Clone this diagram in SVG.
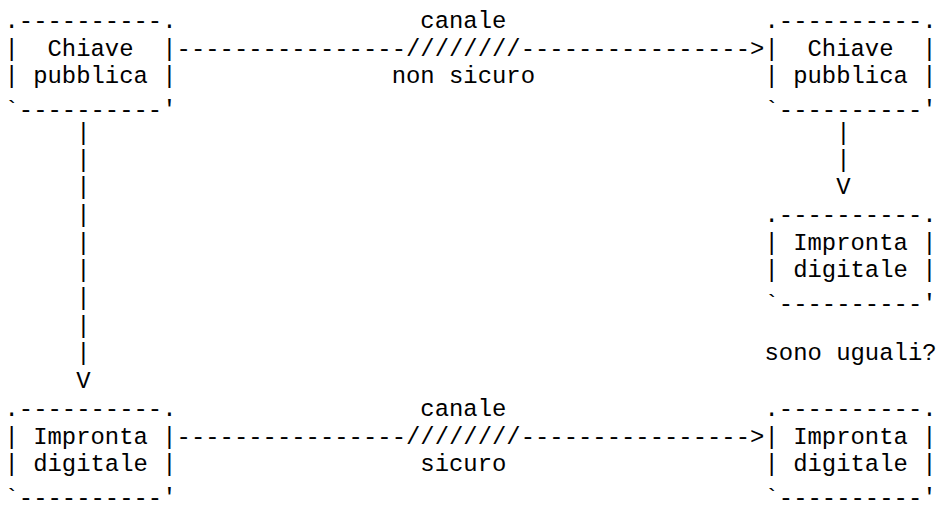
<svg xmlns="http://www.w3.org/2000/svg" width="937" height="519" viewBox="0 0 937 519">
<style>
text{font-family:"Liberation Mono","Courier New",monospace;font-size:23.9px;fill:#000;white-space:pre}
</style>
<rect width="937" height="519" fill="#fff"/>
<g id="chiave-sorgente">
<text x="4.5" y="28">.----------.</text>
<text x="4.5" y="55.7">|  Chiave  |</text>
<text x="4.5" y="83.4">| pubblica |</text>
<text x="4.5" y="117.1">`----------'</text>
</g>
<g id="chiave-destinazione">
<text x="764.52" y="28">.----------.</text>
<text x="764.52" y="55.7">|  Chiave  |</text>
<text x="764.52" y="83.4">| pubblica |</text>
<text x="764.52" y="117.1">`----------'</text>
</g>
<g id="impronta-destinazione">
<text x="764.52" y="221.9">.----------.</text>
<text x="764.52" y="249.6">| Impronta |</text>
<text x="764.52" y="277.3">| digitale |</text>
<text x="764.52" y="311">`----------'</text>
</g>
<g id="impronta-sorgente">
<text x="4.5" y="415.8">.----------.</text>
<text x="4.5" y="443.5">| Impronta |</text>
<text x="4.5" y="471.2">| digitale |</text>
<text x="4.5" y="504.9">`----------'</text>
</g>
<g id="impronta-ricevuta">
<text x="764.52" y="415.8">.----------.</text>
<text x="764.52" y="443.5">| Impronta |</text>
<text x="764.52" y="471.2">| digitale |</text>
<text x="764.52" y="504.9">`----------'</text>
</g>
<g id="connectors">
<text x="176.58" y="55.7">----------------////////----------------&gt;</text>
<text x="420.36" y="28">canale</text>
<text x="391.68" y="83.4">non sicuro</text>
<text x="176.58" y="443.5">----------------////////----------------&gt;</text>
<text x="420.36" y="415.8">canale</text>
<text x="420.36" y="471.2">sicuro</text>
<text x="76.2" y="140">|</text>
<text x="76.2" y="166.5">|</text>
<text x="76.2" y="194.2">|</text>
<text x="76.2" y="221.9">|</text>
<text x="76.2" y="249.6">|</text>
<text x="76.2" y="277.3">|</text>
<text x="76.2" y="305">|</text>
<text x="76.2" y="332.7">|</text>
<text x="76.2" y="360.4">|</text>
<text x="76.2" y="388.1">V</text>
<text x="836.22" y="140">|</text>
<text x="836.22" y="166.5">|</text>
<text x="836.22" y="194.2">V</text>
<text x="764.52" y="360.4">sono uguali?</text>
</g>
</svg>
